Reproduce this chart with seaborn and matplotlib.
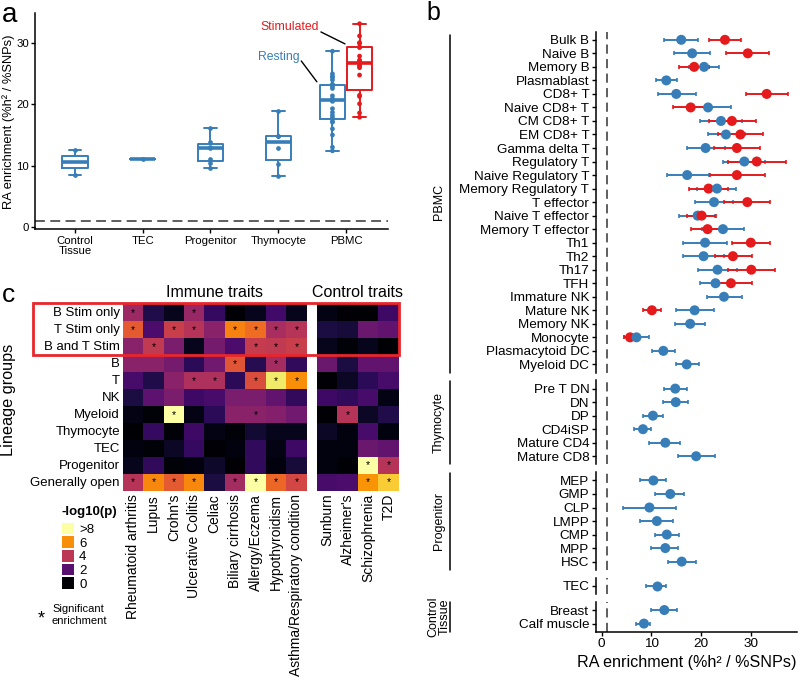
import numpy as np
import pandas as pd
import matplotlib
matplotlib.use("Agg")
import matplotlib.pyplot as plt
import matplotlib.transforms as mtransforms
from matplotlib.patches import Rectangle
import seaborn as sns

sns.set_theme(style="ticks")
plt.rcParams['font.family'] = ['Liberation Sans', 'DejaVu Sans']
plt.rcParams.update({
    "axes.linewidth": 1.1, "axes.edgecolor": "black",
    "xtick.major.width": 1.0, "ytick.major.width": 1.0,
    "xtick.major.size": 2.8, "ytick.major.size": 2.8,
    "xtick.color": "black", "ytick.color": "black",
    "text.color": "black", "axes.labelcolor": "black",
})

BLUE = "#377EB8"
RED = "#E41A1C"

# ---------------- panel b data (RA enrichment, estimate and interval) ----------------
pbmc_cells = ["Bulk B", "Naive B", "Memory B", "Plasmablast", "CD8+ T", "Naive CD8+ T",
              "CM CD8+ T", "EM CD8+ T", "Gamma delta T", "Regulatory T", "Naive Regulatory T",
              "Memory Regulatory T", "T effector", "Naive T effector", "Memory T effector",
              "Th1", "Th2", "Th17", "TFH", "Immature NK", "Mature NK", "Memory NK",
              "Monocyte", "Plasmacytoid DC", "Myeloid DC"]
pbmc_rest = [16.0, 18.2, 20.6, 13.0, 15.0, 21.4, 24.0, 25.0, 20.9, 28.7, 17.2, 23.2, 22.6,
             19.3, 24.4, 20.8, 20.5, 23.3, 22.9, 24.6, 18.7, 17.8, 7.0, 12.4, 17.1]
pbmc_rest_lo = [12.6, 14.6, 17.5, 10.9, 11.3, 17.1, 19.8, 21.3, 17.1, 24.4, 13.1, 19.1, 18.7,
                15.6, 20.1, 16.4, 16.3, 19.3, 19.8, 21.1, 15.0, 14.8, 4.5, 10.1, 15.0]
pbmc_rest_hi = [19.3, 21.8, 23.7, 15.2, 18.9, 26.0, 28.2, 28.9, 24.8, 32.9, 21.5, 27.0, 26.5,
                22.8, 28.7, 25.3, 24.6, 27.2, 26.2, 28.2, 22.5, 20.8, 9.6, 14.8, 19.5]
nan = np.nan
pbmc_stim = [24.8, 29.4, 18.6, nan, 33.2, 17.9, 26.2, 27.9, 27.2, 31.2, 27.2, 21.5, 29.3,
             20.1, 21.3, 30.0, 26.4, 30.1, 26.0, nan, 10.1, nan, 5.7, nan, nan]
pbmc_stim_lo = [21.6, 25.0, 15.6, nan, 29.1, 14.3, 21.5, 23.5, 22.5, 25.5, 21.7, 17.5, 24.7,
                17.2, 18.0, 26.2, 22.8, 25.5, 22.8, nan, 8.3, nan, 4.5, nan, nan]
pbmc_stim_hi = [28.1, 33.7, 21.5, nan, 37.4, 21.8, 31.1, 32.4, 31.9, 37.1, 32.8, 25.5, 33.8,
                23.0, 24.8, 33.9, 30.2, 34.8, 30.2, nan, 11.9, nan, 6.7, nan, nan]

thymo_cells = ["Pre T DN", "DN", "DP", "CD4iSP", "Mature CD4", "Mature CD8"]
thymo_est = [14.8, 14.9, 10.3, 8.3, 12.8, 19.0]
thymo_lo = [12.6, 12.4, 8.3, 6.5, 9.6, 15.4]
thymo_hi = [17.2, 17.4, 12.3, 9.9, 15.8, 22.7]

prog_cells = ["MEP", "GMP", "CLP", "LMPP", "CMP", "MPP", "HSC"]
prog_est = [10.4, 13.8, 9.6, 11.1, 13.1, 12.8, 16.1]
prog_lo = [7.7, 10.7, 4.2, 7.7, 10.7, 9.9, 13.3]
prog_hi = [13.0, 16.6, 14.9, 14.4, 15.6, 15.4, 19.0]

tec_cells = ["TEC"]
tec_est = [11.1]
tec_lo = [8.9]
tec_hi = [13.0]

ctrl_cells = ["Breast", "Calf muscle"]
ctrl_est = [12.6, 8.5]
ctrl_lo = [9.9, 7.0]
ctrl_hi = [15.1, 9.7]

b_groups = ["PBMC", "Thymocyte", "Progenitor", "TEC", "Control Tissue"]
b_strips = ["PBMC", "Thymocyte", "Progenitor", "", "Control\nTissue"]
# cells left out of the panel-a box summaries
a_exclude_rest = ["Monocyte"]
a_exclude_stim = ["Mature NK", "Monocyte"]

# ---------------- panel c data (-log10 p) ----------------
lineage_groups = ["B Stim only", "T Stim only", "B and T Stim", "B", "T", "NK", "Myeloid",
                  "Thymocyte", "TEC", "Progenitor", "Generally open"]
immune_traits = ["Rheumatoid arthritis", "Lupus", "Crohn's", "Ulcerative Colitis", "Celiac",
                 "Biliary cirrhosis", "Allergy/Eczema", "Hypothyroidism",
                 "Asthma/Respiratory condition"]
control_traits = ["Sunburn", "Alzheimer's", "Schizophrenia", "T2D"]
immune_logp = [
    [3.4, 1.0, 0.4, 3.3, 1.4, 0.05, 0.4, 1.6, 0.4],
    [5.0, 1.8, 4.3, 3.9, 3.0, 5.8, 5.4, 3.6, 3.9],
    [3.0, 4.1, 2.7, 0.4, 2.6, 1.8, 4.2, 4.1, 4.3],
    [3.0, 3.0, 2.6, 1.2, 2.5, 4.9, 1.1, 3.5, 1.3],
    [1.7, 1.0, 3.0, 3.7, 3.7, 1.2, 4.7, 7.5, 6.0],
    [0.9, 2.1, 2.7, 1.5, 1.7, 2.7, 2.7, 2.2, 1.3],
    [0.3, 0.1, 8.5, 0.3, 1.2, 3.0, 3.0, 2.9, 2.5],
    [0.0, 1.4, 0.1, 1.5, 0.3, 0.1, 0.7, 0.4, 0.4],
    [0.2, 0.1, 0.5, 1.4, 0.05, 0.2, 1.3, 0.3, 1.5],
    [0.4, 1.3, 0.1, 0.2, 0.6, 0.05, 1.3, 0.2, 0.8],
    [3.9, 5.9, 5.0, 5.9, 0.9, 3.5, 8.5, 5.3, 4.5],
]
immune_sig = [
    [1, 0, 0, 1, 0, 0, 0, 0, 0],
    [1, 0, 1, 1, 0, 1, 1, 1, 1],
    [0, 1, 0, 0, 0, 0, 1, 1, 1],
    [0, 0, 0, 0, 0, 1, 0, 1, 0],
    [0, 0, 0, 1, 1, 0, 1, 1, 1],
    [0, 0, 0, 0, 0, 0, 0, 0, 0],
    [0, 0, 1, 0, 0, 0, 1, 0, 0],
    [0, 0, 0, 0, 0, 0, 0, 0, 0],
    [0, 0, 0, 0, 0, 0, 0, 0, 0],
    [0, 0, 0, 0, 0, 0, 0, 0, 0],
    [1, 1, 1, 1, 0, 1, 1, 1, 1],
]
control_logp = [
    [0.3, 0.05, 0.05, 1.5],
    [0.9, 0.8, 2.4, 2.2],
    [0.4, 0.1, 0.4, 0.05],
    [2.4, 0.9, 2.2, 2.2],
    [0.05, 0.5, 1.2, 1.7],
    [1.5, 1.3, 1.7, 0.3],
    [0.05, 3.9, 0.5, 1.0],
    [0.5, 0.2, 1.7, 0.2],
    [0.2, 0.2, 2.4, 2.2],
    [0.2, 0.05, 8.5, 3.9],
    [1.7, 1.8, 6.1, 7.0],
]
control_sig = [
    [0, 0, 0, 0], [0, 0, 0, 0], [0, 0, 0, 0], [0, 0, 0, 0], [0, 0, 0, 0], [0, 0, 0, 0],
    [0, 1, 0, 0], [0, 0, 0, 0], [0, 0, 0, 0], [0, 0, 1, 1], [0, 0, 1, 1],
]
legend_values = [8, 6, 4, 2, 0]
legend_labels = [">8", "6", "4", "2", "0"]

# ---------------- tidy table for panels a & b ----------------
rows = []
def add(group, cells, est, lo, hi, state):
    for c, e, l, h in zip(cells, est, lo, hi):
        if not np.isnan(e):
            rows.append(dict(group=group, cell=c, state=state, est=e, lo=l, hi=h))

add("PBMC", pbmc_cells, pbmc_rest, pbmc_rest_lo, pbmc_rest_hi, "Resting")
add("PBMC", pbmc_cells, pbmc_stim, pbmc_stim_lo, pbmc_stim_hi, "Stimulated")
add("Thymocyte", thymo_cells, thymo_est, thymo_lo, thymo_hi, "Resting")
add("Progenitor", prog_cells, prog_est, prog_lo, prog_hi, "Resting")
add("TEC", tec_cells, tec_est, tec_lo, tec_hi, "Resting")
add("Control Tissue", ctrl_cells, ctrl_est, ctrl_lo, ctrl_hi, "Resting")
bdf = pd.DataFrame(rows)
b_cells = {"PBMC": pbmc_cells, "Thymocyte": thymo_cells, "Progenitor": prog_cells,
           "TEC": tec_cells, "Control Tissue": ctrl_cells}

W, H = 800, 680
fig = plt.figure(figsize=(W / 100, H / 100), dpi=100)

def fbox(l, t, r, b):
    return [l / W, 1 - b / H, (r - l) / W, (b - t) / H]

def ftext(x, y, s, **kw):
    fig.text(x / W, 1 - y / H, s, **kw)

# ================= panel a =================
ax = fig.add_axes(fbox(35, 13.3, 388, 229.3))
a_order = ["Control Tissue", "TEC", "Progenitor", "Thymocyte", "PBMC"]
adf = bdf[~(((bdf.state == "Resting") & bdf.cell.isin(a_exclude_rest) & (bdf.group == "PBMC")) |
            ((bdf.state == "Stimulated") & bdf.cell.isin(a_exclude_stim)))]
single = adf[adf.group != "PBMC"]
pb = adf[adf.group == "PBMC"]
box_kw = dict(fill=False, showfliers=False, linewidth=1.4, whis=1.5,
              medianprops=dict(linewidth=2.6))
sns.boxplot(data=single, x="group", y="est", order=a_order, color=BLUE, width=0.37,
            ax=ax, **box_kw)
sns.boxplot(data=pb, x="group", y="est", order=a_order, hue="state",
            hue_order=["Resting", "Stimulated"], palette=[BLUE, RED], width=0.8, gap=0.1,
            dodge=True, legend=False, ax=ax, **box_kw)
sns.stripplot(data=single, x="group", y="est", order=a_order, color=BLUE, jitter=False,
              size=3.4, ax=ax, zorder=3)
sns.stripplot(data=pb, x="group", y="est", order=a_order, hue="state",
              hue_order=["Resting", "Stimulated"], palette=[BLUE, RED], jitter=False,
              dodge=True, size=3.4, legend=False, ax=ax, zorder=3)
ax.axhline(1, color="#333333", ls=(0, (6.5, 3.5)), lw=1.1, zorder=1)
ax.set_xlim(-0.59, 4.62)
ax.set_ylim(-0.43, 34.9)
ax.set_yticks([0, 10, 20, 30])
ax.set_xticks(range(len(a_order)))
ax.set_xticklabels([g.replace(" ", "\n") for g in a_order], fontsize=8.2, linespacing=0.95)
ax.tick_params(axis="y", labelsize=8.2, pad=1.5)
ax.tick_params(axis="x", pad=2)
ax.set_xlabel("")
ax.set_ylabel("RA enrichment (%h² / %SNPs)", fontsize=9.3)
ax.yaxis.set_label_coords(-0.058, 0.5)
sns.despine(ax=ax)
ax.text(3.17, 32.7, "Stimulated", color=RED, fontsize=8.8, ha="center", va="center")
ax.plot([3.63, 3.985], [31.85, 29.9], color="black", lw=1.0)
ax.text(3.01, 27.8, "Resting", color=BLUE, fontsize=8.8, ha="center", va="center")
ax.plot([3.34, 3.57], [27.1, 23.7], color="black", lw=1.0)

# ================= panel b =================
top_px, bot_px, gap_px, pad = 31.7, 631.7, 8.0, 0.6
n_list = [len(b_cells[g]) for g in b_groups]
unit_px = (bot_px - top_px - gap_px * (len(b_groups) - 1)) / sum(n - 1 + 2 * pad for n in n_list)
y0 = top_px
for i, (g, strip) in enumerate(zip(b_groups, b_strips)):
    cells = b_cells[g]
    n = len(cells)
    h = (n - 1 + 2 * pad) * unit_px
    axb = fig.add_axes(fbox(596, y0, 797, y0 + h))
    sub = bdf[bdf.group == g].copy()
    sub["pos"] = sub.cell.map({c: k for k, c in enumerate(cells)})
    axb.axvline(1, color="#333333", ls=(0, (6.0, 3.5)), lw=1.1, zorder=1)
    for state, col in [("Resting", BLUE), ("Stimulated", RED)]:
        s = sub[sub.state == state]
        if len(s):
            axb.errorbar(s.est, s.pos, xerr=[s.est - s.lo, s.hi - s.est], fmt="none",
                         ecolor=col, elinewidth=1.4, capsize=1.3, capthick=1.2, zorder=2)
    sns.scatterplot(data=sub.sort_values("est"), x="est", y="pos", hue="state",
                    palette={"Resting": BLUE, "Stimulated": RED}, s=52, linewidth=0,
                    legend=False, ax=axb, zorder=3)
    axb.set_ylim(n - 1 + pad, -pad)
    axb.set_xlim(-1.15, 39.3)
    axb.set_yticks(range(n))
    axb.set_yticklabels(cells, fontsize=9.7)
    axb.tick_params(axis="y", pad=2)
    axb.set_ylabel("")
    axb.spines["top"].set_visible(False)
    axb.spines["right"].set_visible(False)
    if i == len(b_groups) - 1:
        axb.set_xticks([0, 10, 20, 30])
        axb.tick_params(axis="x", labelsize=9.7, pad=2)
        axb.set_xlabel("RA enrichment (%h² / %SNPs)", fontsize=11.6, labelpad=3)
        axb.xaxis.label.set_x(0.452)
    else:
        axb.spines["bottom"].set_visible(False)
        axb.set_xticks([])
        axb.set_xlabel("")
    if strip:
        tr = mtransforms.blended_transform_factory(fig.transFigure, axb.transAxes)
        axb.plot([450 / W, 450 / W], [0.0, 0.99], transform=tr, color="black", lw=1.1,
                 clip_on=False)
        axb.text(439 / W, 0.5, strip, transform=tr, rotation=90, ha="center", va="center",
                 fontsize=9.0, multialignment="center", linespacing=1.0)
    y0 += h + gap_px

# ================= panel c =================
imm = pd.DataFrame(immune_logp, index=lineage_groups, columns=immune_traits)
ctl = pd.DataFrame(control_logp, index=lineage_groups, columns=control_traits)
imm_star = np.where(np.array(immune_sig) == 1, "*", "")
ctl_star = np.where(np.array(control_sig) == 1, "*", "")

axh1 = fig.add_axes(fbox(122.7, 304.3, 306.7, 491))
sns.heatmap(imm, ax=axh1, cmap="inferno", vmin=0, vmax=8, cbar=False, annot=imm_star, fmt="",
            annot_kws=dict(color="black", fontsize=7.5), xticklabels=True, yticklabels=True)
axh2 = fig.add_axes(fbox(316.7, 304.3, 399, 491))
sns.heatmap(ctl, ax=axh2, cmap="inferno", vmin=0, vmax=8, cbar=False, annot=ctl_star, fmt="",
            annot_kws=dict(color="black", fontsize=7.5), xticklabels=True, yticklabels=False)
for a in (axh1, axh2):
    a.tick_params(length=0, pad=2)
    a.set_xticklabels(a.get_xticklabels(), rotation=90, fontsize=10)
    a.set_xlabel("")
    a.set_ylabel("")
axh1.set_yticklabels(lineage_groups, rotation=0, fontsize=9.5)

axh1.set_title("Immune traits", fontsize=11.5, pad=5)
axh2.set_title("Control traits", fontsize=11.5, pad=5)

fig.add_artist(Rectangle((33 / W, 1 - 355.3 / H), (399.3 - 33) / W, (355.3 - 302.7) / H,
                         transform=fig.transFigure, fill=False, ec="#E8262B", lw=2.0))

ftext(9, 400, "Lineage groups", rotation=90, ha="center", va="center", fontsize=11.7)

axl = fig.add_axes(fbox(61, 521.7, 75, 590))
sns.heatmap(pd.DataFrame([[v] for v in legend_values]), ax=axl, cmap="inferno", vmin=0,
            vmax=8, cbar=False, linewidths=1.2, linecolor="white", xticklabels=False,
            yticklabels=legend_labels)
axl.yaxis.tick_right()
axl.tick_params(length=0, pad=3)
axl.set_yticklabels(legend_labels, rotation=0, fontsize=9.5)
ftext(61, 512, "-log10(p)", fontsize=9.5, fontweight="bold", ha="left", va="center")
ftext(41, 619, "*", fontsize=13, ha="center", va="center")
ftext(52, 615, "Significant\nenrichment", fontsize=8, ha="left", va="center", linespacing=1.2)

# panel letters
ftext(2, 22, "a", fontsize=20, ha="left", va="baseline")
ftext(426, 20, "b", fontsize=18, ha="left", va="baseline")
ftext(2, 302, "c", fontsize=19, ha="left", va="baseline")

fig.savefig("out.png", dpi=100)
